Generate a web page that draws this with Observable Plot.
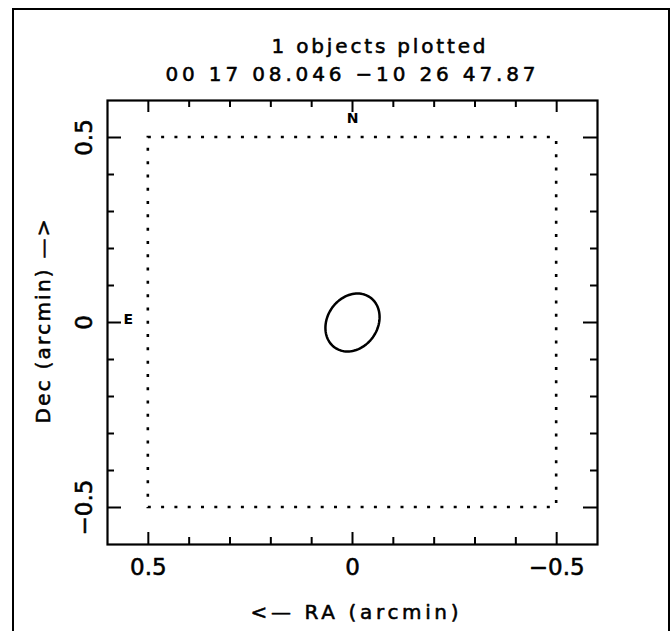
<!DOCTYPE html>
<html>
<head>
<meta charset="utf-8">
<script src="https://cdn.jsdelivr.net/npm/d3@7"></script>
<script src="https://cdn.jsdelivr.net/npm/@observablehq/plot@0.6"></script>
<style>
  html, body { margin: 0; padding: 0; background: #ffffff; }
  #wrap { position: relative; width: 672px; height: 631px; overflow: hidden; background: #fff; }
  #border { position: absolute; left: 11.6px; top: 7.9px; width: 658.2px; height: 640px;
            border: 2.3px solid #000; box-sizing: border-box; pointer-events: none; }
</style>
</head>
<body>
<div id="wrap"><div id="border"></div></div>
<script>
// ---------------- data ----------------
const xDomain = [0.6, -0.6];          // RA offset (arcmin), East to the left
const yDomain = [-0.6, 0.6];          // Dec offset (arcmin)
const majorTicks = [0.5, 0, -0.5];
const xTickLabels = ["0.5", "0", "−0.5"];
const yTickLabels = ["0.5", "0", "−0.5"];
const minorTicks = [0.4, 0.3, 0.2, 0.1, -0.1, -0.2, -0.3, -0.4];
const titleLines = ["1 objects plotted", "00 17 08.046 −10 26 47.87"];
const xLabel = "<— RA (arcmin)";
const yLabel = "Dec (arcmin) —>";
const fieldBox = [{x1: 0.5, x2: -0.5, y1: -0.5, y2: 0.5}];
const fieldCenter = [{ra: 0, dec: 0}];
// detected object: centre, semi-axes (arcmin), position angle (deg, N through E)
const objects = [{ra: 0, dec: 0, a: 0.081, b: 0.063, pa: 156}];

// ---------------- layout / style ----------------
const W = 672, H = 631;
const M = {top: 100, right: 75, bottom: 87, left: 107};
const frameW = W - M.left - M.right;
const frameH = H - M.top - M.bottom;
const majorLenX = 12, majorLenY = 14, minorLen = 7;
const ink = "#000";
const textStroke = {stroke: ink, strokeWidth: 0.55};

// ellipse outline from its parameters
const ellipsePts = [];
for (const o of objects) {
  const p = o.pa * Math.PI / 180;
  for (let i = 0; i < 96; i++) {
    const t = 2 * Math.PI * i / 96;
    const u = o.a * Math.cos(t), v = o.b * Math.sin(t);
    ellipsePts.push({
      x: o.ra + u * Math.sin(p) + v * Math.cos(p),
      y: o.dec + u * Math.cos(p) - v * Math.sin(p)
    });
  }
}

const id = d => d;
const svg = Plot.plot({
  width: W, height: H,
  marginTop: M.top, marginRight: M.right, marginBottom: M.bottom, marginLeft: M.left,
  style: {fontFamily: "DejaVu Sans", background: "#fff", color: ink},
  x: {domain: xDomain, axis: null, label: null},
  y: {domain: yDomain, axis: null, label: null},
  marks: [
    // ticks (inward)
    Plot.ruleX(majorTicks, {x: id, insetTop: frameH - majorLenX, strokeWidth: 2, stroke: ink}),
    Plot.ruleX(majorTicks, {x: id, insetBottom: frameH - majorLenX, strokeWidth: 2, stroke: ink}),
    Plot.ruleX(minorTicks, {x: id, insetTop: frameH - minorLen, strokeWidth: 2, stroke: ink}),
    Plot.ruleX(minorTicks, {x: id, insetBottom: frameH - minorLen, strokeWidth: 2, stroke: ink}),
    Plot.ruleY(majorTicks, {y: id, insetRight: frameW - majorLenY, strokeWidth: 2, stroke: ink}),
    Plot.ruleY(majorTicks, {y: id, insetLeft: frameW - majorLenY, strokeWidth: 2, stroke: ink}),
    Plot.ruleY(minorTicks, {y: id, insetRight: frameW - minorLen, strokeWidth: 2, stroke: ink}),
    Plot.ruleY(minorTicks, {y: id, insetLeft: frameW - minorLen, strokeWidth: 2, stroke: ink}),
    Plot.frame({stroke: ink, strokeWidth: 2.2}),
    // dotted field box
    Plot.rect(fieldBox, {x1: "x1", x2: "x2", y1: "y1", y2: "y2", fill: "none", stroke: ink,
      strokeWidth: 2.6, strokeDasharray: "3,10.3"}),
    // object ellipse
    Plot.line(ellipsePts, {x: "x", y: "y", curve: "linear-closed", stroke: ink, strokeWidth: 2.5}),
    // tick labels
    Plot.text(majorTicks, {x: id, text: (d, i) => xTickLabels[i], frameAnchor: "bottom", dy: 14,
      lineAnchor: "top", textAnchor: "middle", fontSize: 23, fill: ink, ...textStroke}),
    Plot.text(majorTicks, {y: id, text: (d, i) => yTickLabels[i], frameAnchor: "left", dx: -16,
      rotate: -90, lineAnchor: "bottom", textAnchor: "middle", fontSize: 23, fill: ink, ...textStroke}),
    // compass labels
    Plot.text(fieldCenter, {x: "ra", text: () => "N", frameAnchor: "top", dy: 22, lineAnchor: "bottom",
      textAnchor: "middle", fontSize: 14, fontWeight: "bold", fill: ink}),
    Plot.text(fieldCenter, {y: "dec", text: () => "E", frameAnchor: "left", dx: 16, dy: 1,
      textAnchor: "start", lineAnchor: "bottom", fontSize: 14, fontWeight: "bold", fill: ink}),
    // axis labels
    Plot.text([xLabel], {text: id, frameAnchor: "bottom", dx: 2, dy: 74, lineAnchor: "bottom",
      textAnchor: "middle", fontSize: 20, fill: ink, ...textStroke}),
    Plot.text([yLabel], {text: id, frameAnchor: "left", dx: -58, dy: -1, rotate: -90,
      lineAnchor: "bottom", textAnchor: "middle", fontSize: 20, fill: ink, ...textStroke}),
    // title lines
    Plot.text([titleLines[0]], {text: id, frameAnchor: "top", dx: 26, dy: -48, lineAnchor: "bottom",
      textAnchor: "middle", fontSize: 20, fill: ink, ...textStroke}),
    Plot.text([titleLines[1]], {text: id, frameAnchor: "top", dx: -2, dy: -20, lineAnchor: "bottom",
      textAnchor: "middle", fontSize: 20, fill: ink, ...textStroke})
  ]
});

// stretch text to the reference's wide glyph spacing
const textLengths = {};
textLengths[titleLines[0]] = 214;
textLengths[titleLines[1]] = 370;
textLengths[xLabel] = 208;
textLengths[yLabel] = 204;
d3.select(svg).selectAll("text").each(function () {
  const t = this.textContent;
  if (t in textLengths) {
    this.setAttribute("textLength", textLengths[t]);
    this.setAttribute("lengthAdjust", "spacing");
  }
});

const wrap = document.getElementById("wrap");
wrap.insertBefore(svg, wrap.firstChild);
svg.style.position = "absolute";
svg.style.left = "0px";
svg.style.top = "0px";
</script>
</body>
</html>
